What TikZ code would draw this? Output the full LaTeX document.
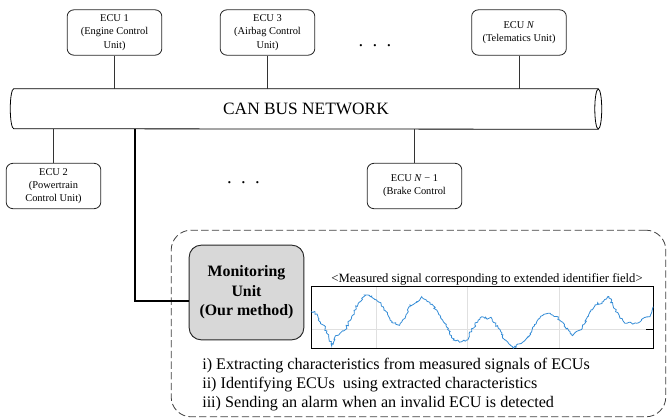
\documentclass[tikz,border=0pt]{standalone}
\usepackage{fontspec}
\setmainfont{Liberation Serif}
\usepackage{pgf,tikz}
\usetikzlibrary{positioning,decorations.pathmorphing}
\definecolor{sigblue}{RGB}{52,140,214}
\definecolor{unitgray}{RGB}{216,216,216}
\tikzstyle{ecu} = [draw=black!85, line width=0.6pt, rectangle, rounded corners=5pt, minimum width=71pt, minimum height=34pt, inner sep=1pt, align=center, font=\fontsize{7.8}{9.9}\selectfont]
\tikzstyle{tap} = [draw=black!80, line width=0.6pt]
\tikzstyle{monitor} = [draw=black!85, fill=unitgray, line width=0.7pt, rounded corners=9pt, minimum width=86pt, minimum height=71pt, align=center, font=\fontsize{11.9}{14.6}\selectfont\bfseries]
\tikzstyle{dotsrow} = [inner sep=1pt, font=\fontsize{14}{14}\selectfont]
\tikzstyle{gridline} = [draw=black!12, line width=0.5pt]

\begin{document}
\begin{tikzpicture}[x=0.75pt,y=-0.75pt]
\useasboundingbox (0,0) rectangle (668,420);
\pgfmathsetseed{42}
\node[ecu] (ecu1) at (114.5,32.5) {ECU 1\\(Engine Control\\Unit)};
\node[ecu] (ecu3) at (267.5,32.5) {ECU 3\\(Airbag Control\\Unit)};
\node[ecu] (ecuN) at (519,32.5) {ECU \textit{N}\\(Telematics Unit)};
\node[ecu] (ecu2) at (53.5,186) {ECU 2\\(Powertrain\\Control Unit)};
\node[ecu] (ecuNm) at (414.5,186) {ECU \textit{N} − 1\\(Brake Control};
\node[dotsrow] (dotsA) at (375,46) {.\ \ .\ \ .};
\node[dotsrow] (dotsB) at (243.5,183) {.\ \ .\ \ .};
\node[minimum width=438pt, minimum height=30pt, inner sep=0pt, font=\fontsize{13}{14}\selectfont] (bus) at (306,109) {CAN BUS NETWORK};
\draw[line width=0.6pt] (bus.north east) -- (bus.north west) arc[start angle=90, end angle=270, x radius=2.6pt, y radius=15pt] -- (bus.south east);
\draw[line width=0.6pt] (bus.east) ellipse [x radius=2.6pt, y radius=15pt];
\draw[tap] (ecu1.south) -- (ecu1.south |- bus.north);
\draw[tap] (ecu3.south) -- (ecu3.south |- bus.north);
\draw[tap] (ecuN.south) -- (ecuN.south |- bus.north);
\draw[tap] (ecu2.north) -- (ecu2.north |- bus.south);
\draw[tap] (ecuNm.north) -- (ecuNm.north |- bus.south);

\node[draw=black!75, line width=0.6pt, dash pattern=on 5.5pt off 2.5pt, rounded corners=15pt, minimum width=371pt, minimum height=140pt] (frame) at (418.5,323.5) {};
\node[monitor] (mon) at (246.5,292.5) {Monitoring\\Unit\\(Our method)};
\coordinate (probe) at (135,301);
\draw[line width=1.5pt] (probe |- bus.south) |- (mon.west |- probe);

\node[draw, line width=0.7pt, minimum width=257pt, minimum height=47pt, inner sep=0pt] (sig) at (482.5,317.5) {};
\foreach \gx in {376,467,559} \draw[gridline] (\gx,287) -- (\gx,348);
\draw[gridline] (312,329.3) -- (653,329.3);
\draw[line width=0.7pt] (646,329.3) -- (653,329.3);
\draw[sigblue, line width=0.6pt, decorate, decoration={random steps, segment length=1.2pt, amplitude=0.9pt}] plot coordinates {
(311,311.7) (315,311.7) (318.3,320) (323.3,325) (326.7,331.7) (331.7,346) (335,336.7) (340,333.3) (345,330) (351.7,316.7) (358.3,303.3) (365,295) (371.7,296) (376.7,300) (383.3,306.7) (390,320) (398.3,325) (405,318.3) (410,305) (416.7,301.7) (421.7,296.7) (428.3,301.7) (436.7,310) (443.3,321.7) (448.3,328.3) (453.3,340) (461.7,341.7) (466.7,340) (471.7,330) (478.3,320) (481.7,316.7) (485,318.3) (491.7,318.3) (498.3,328.3) (505,340) (513.3,348.3) (523.3,341.7) (531.7,331.7) (536.7,321.7) (543.3,315) (550,313.3) (558.3,318.3) (565,326.7) (571.7,335) (580,330) (586.7,318.3) (595,305) (603.3,301.7) (609,296.7) (613.3,306.7) (620,318.3) (626.7,323.3) (636.7,323.3) (643.3,318.3) (650,316.7) (653.3,306.7)};
\node[inner sep=0pt, font=\fontsize{9.5}{10}\selectfont, above=0pt of sig, xshift=3.4pt] (sigcap) {<Measured signal corresponding to extended identifier field>};
\node[anchor=north west, inner sep=0pt, align=left, font=\fontsize{12.1}{14.25}\selectfont] (steps) at (202,358) {i) Extracting characteristics from measured signals of ECUs\\ii) Identifying ECUs\ \ using extracted characteristics\\iii) Sending an alarm when an invalid ECU is detected};
\end{tikzpicture}
\end{document}
